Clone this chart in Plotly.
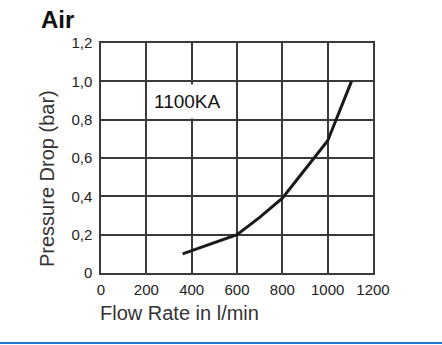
import plotly.graph_objects as go

flow = [360, 600, 700, 800, 900, 1000, 1105]
pressure = [0.10, 0.20, 0.29, 0.39, 0.54, 0.69, 1.00]
x_ticks = [0, 200, 400, 600, 800, 1000, 1200]
y_ticks = [0, 0.2, 0.4, 0.6, 0.8, 1.0, 1.2]
y_tick_text = ["0", "0,2", "0,4", "0,6", "0,8", "1,0", "1,2"]

W, H = 442, 345
L, R, T, B = 101, 373, 43, 273
pw, ph = R - L, B - T

def px(x):
    return (x - L) / pw

def py(y):
    return (B - y) / ph

FONT = "Liberation Sans, Arial, Helvetica, sans-serif"
grid = "#3a3a3a"

fig = go.Figure()
fig.add_trace(go.Scatter(x=flow, y=pressure, mode="lines",
                         line=dict(color="#1a1a1a", width=3), hoverinfo="skip"))

fig.update_layout(
    width=W, height=H,
    margin=dict(l=L, r=W - R, t=T, b=H - B),
    paper_bgcolor="white", plot_bgcolor="white",
    showlegend=False,
    font=dict(family=FONT, color="#222"),
    xaxis=dict(range=[0, 1200], tickvals=x_ticks, ticktext=[str(v) for v in x_ticks],
               showgrid=True, gridcolor=grid, gridwidth=1.5,
               showline=True, linecolor=grid, linewidth=1.5, mirror=True,
               zeroline=False, ticks="", ticklabelstandoff=2,
               tickfont=dict(size=15, color="#222"), fixedrange=True),
    yaxis=dict(range=[0, 1.2], tickvals=y_ticks, ticktext=y_tick_text,
               showgrid=True, gridcolor=grid, gridwidth=1.5,
               showline=True, linecolor=grid, linewidth=1.5, mirror=True,
               zeroline=False, ticks="", ticklabelstandoff=4,
               tickfont=dict(size=15, color="#222"), fixedrange=True),
)

annotations = [
    dict(text="<b>Air</b>", x=px(39), y=py(20), xref="paper", yref="paper",
         xanchor="left", yanchor="middle", showarrow=False,
         font=dict(size=24, color="#111", family=FONT)),
    dict(text="1100KA", x=383, y=0.895, xref="x", yref="y",
         xanchor="center", yanchor="middle", showarrow=False,
         bgcolor="white", borderpad=6,
         font=dict(size=19, color="#111", family=FONT)),
    dict(text="Pressure Drop (bar)", x=px(47), y=py(179), xref="paper", yref="paper",
         xanchor="center", yanchor="middle", textangle=-90, showarrow=False,
         font=dict(size=20, color="#333", family=FONT)),
    dict(text="Flow Rate in l/min", x=px(98), y=py(313), xref="paper", yref="paper",
         xanchor="left", yanchor="middle", showarrow=False,
         font=dict(size=20, color="#333", family=FONT)),
]
fig.update_layout(annotations=annotations)

fig.add_shape(type="line", xref="paper", yref="paper",
              x0=px(0), x1=px(W), y0=py(343), y1=py(343),
              line=dict(color="#1f7bd0", width=2))

fig.write_html("out.html", config={"displayModeBar": False})
